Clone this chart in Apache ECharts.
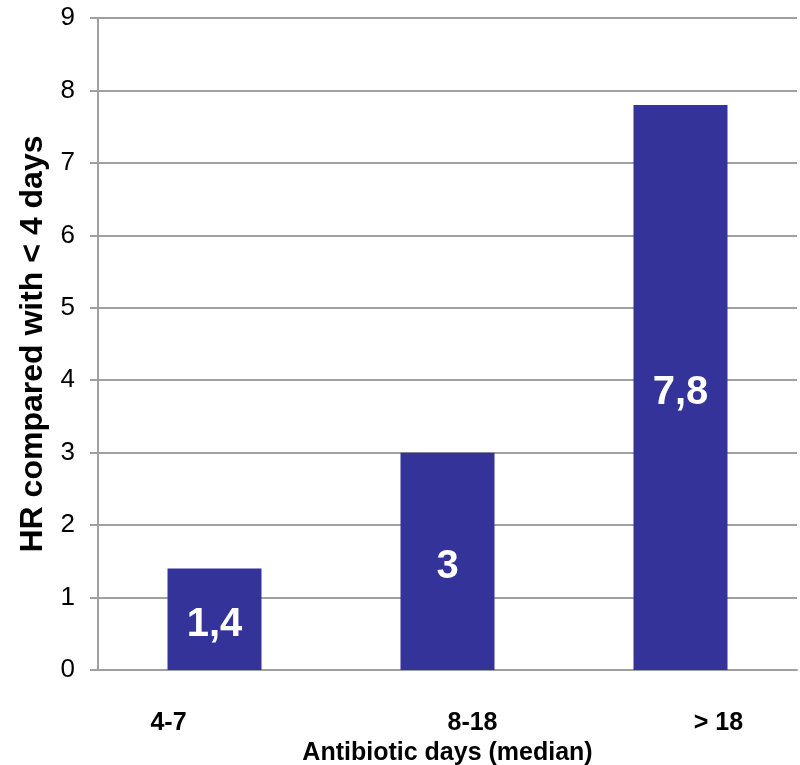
<!DOCTYPE html>
<html>
<head>
<meta charset="utf-8">
<script src="https://cdn.jsdelivr.net/npm/echarts@6/dist/echarts.min.js"></script>
<style>
  html, body { margin: 0; padding: 0; background: #ffffff; }
  #chart { width: 800px; height: 765px; }
</style>
</head>
<body>
<div id="chart"></div>
<script>
// Hazard ratio by antibiotic exposure, relative to < 4 days
const categories = ['4-7', '8-18', '> 18'];
const hazardRatios = [1.4, 3, 7.8];
const yTicks = { min: 0, max: 9, interval: 1 };

// per-category label nudges (left/right padding in px)
const labelPad = {
  '4-7': [0, 92, 0, 0],
  '8-18': [0, 0, 0, 50],
  '> 18': [0, 0, 0, 76]
};
const richStyles = {};
categories.forEach((c, i) => {
  richStyles['c' + i] = {
    fontFamily: 'Liberation Sans',
    fontWeight: 'bold',
    fontSize: 25,
    color: '#000000',
    padding: labelPad[c]
  };
});

const font = 'Liberation Sans';
const gridColor = '#a0a0a0';

const chart = echarts.init(document.getElementById('chart'), null, { renderer: 'canvas' });
chart.setOption({
  backgroundColor: '#ffffff',
  animation: false,
  grid: { left: 98, right: 3, top: 18, bottom: 95, containLabel: false, outerBoundsMode: 'none' },
  xAxis: {
    type: 'category',
    data: categories,
    name: 'Antibiotic days (median)',
    nameLocation: 'middle',
    nameGap: 68,
    nameTextStyle: { fontFamily: font, fontWeight: 'bold', fontSize: 25, color: '#000000' },
    axisLine: { show: true, lineStyle: { color: gridColor, width: 2 } },
    axisTick: { show: false },
    axisLabel: {
      margin: 41,
      interval: 0,
      formatter: (v, i) => '{c' + i + '|' + v + '}',
      rich: richStyles
    }
  },
  yAxis: {
    type: 'value',
    min: yTicks.min,
    max: yTicks.max,
    interval: yTicks.interval,
    name: 'HR compared with < 4 days',
    nameLocation: 'middle',
    nameRotate: 90,
    nameGap: 47,
    nameTextStyle: { fontFamily: font, fontWeight: 'bold', fontSize: 32, color: '#000000' },
    axisLine: { show: true, lineStyle: { color: gridColor, width: 2 } },
    axisTick: { show: true, inside: false, length: 8, lineStyle: { color: gridColor, width: 2 } },
    axisLabel: { margin: 23, fontFamily: font, fontSize: 26, color: '#000000' },
    splitLine: { show: true, lineStyle: { color: gridColor, width: 2 } }
  },
  series: [{
    type: 'bar',
    data: hazardRatios,
    barWidth: 94,
    itemStyle: { color: '#333399' },
    label: {
      show: true,
      position: 'inside',
      offset: [0, 6],
      fontFamily: font,
      fontWeight: 'bold',
      fontSize: 40,
      color: '#ffffff',
      formatter: p => String(p.value).replace('.', ',')
    }
  }]
});
</script>
</body>
</html>
